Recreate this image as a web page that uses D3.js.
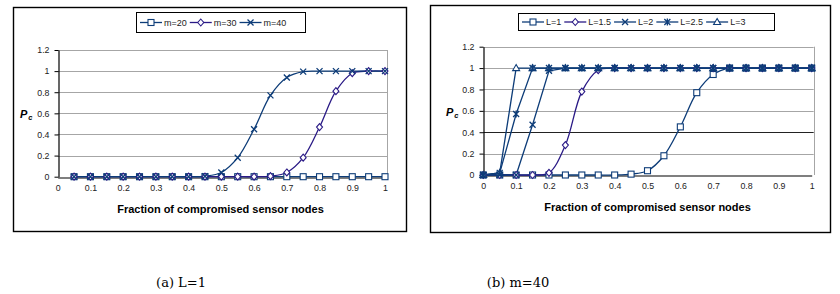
<!DOCTYPE html>
<html><head><meta charset="utf-8">
<script src="https://cdn.jsdelivr.net/npm/d3@7"></script>
<style>body{margin:0;background:#fff}svg{display:block}</style>
</head><body>
<svg id="c" width="840" height="294"></svg>
<script>
// ---- data ----
const xTicks = [0,0.1,0.2,0.3,0.4,0.5,0.6,0.7,0.8,0.9,1];
const yTicks = [0,0.2,0.4,0.6,0.8,1,1.2];
const xTickLabels = ["0","0.1","0.2","0.3","0.4","0.5","0.6","0.7","0.8","0.9","1"];
const yTickLabels = ["0","0.2","0.4","0.6","0.8","1","1.2"];

const xA = [0.05,0.1,0.15,0.2,0.25,0.3,0.35,0.4,0.45,0.5,0.55,0.6,0.65,0.7,0.75,0.8,0.85,0.9,0.95,1];
const m20 = [0,0,0,0,0,0,0,0,0,0,0,0,0,0,0,0,0,0,0,0];
const m30 = [0,0,0,0,0,0,0,0,0,0,0,0,0.005,0.04,0.18,0.47,0.81,0.98,1,1];
const m40 = [0,0,0,0,0,0,0,0,0.005,0.04,0.18,0.45,0.77,0.94,0.995,1,1,1,1,1];

const xB = [0,0.05,0.1,0.15,0.2,0.25,0.3,0.35,0.4,0.45,0.5,0.55,0.6,0.65,0.7,0.75,0.8,0.85,0.9,0.95,1];
const L1  = [0,0,0,0,0,0,0,0,0,0.008,0.04,0.18,0.45,0.77,0.94,1,1,1,1,1,1];
const L15 = [0,0,0,0,0.02,0.28,0.78,0.98,1,1,1,1,1,1,1,1,1,1,1,1,1];
const L2  = [0,0,0,0.47,0.975,1,1,1,1,1,1,1,1,1,1,1,1,1,1,1,1];
const L25 = [0,0.02,0.57,1,1,1,1,1,1,1,1,1,1,1,1,1,1,1,1,1,1];
const L3  = [0,0.02,1,1,1,1,1,1,1,1,1,1,1,1,1,1,1,1,1,1,1];

const namesA = ["m=20","m=30","m=40"];
const namesB = ["L=1","L=1.5","L=2","L=2.5","L=3"];
const captions = ["(a) L=1","(b) m=40"];
const xTitle = "Fraction of compromised sensor nodes";

// ---- drawing ----
const svg = d3.select("#c");
const NAVY = "#0d3c78", PURP = "#2a1a86";
const FONT = "Liberation Sans, Arial, sans-serif";

function marker(g, type, x, y, color){
  const s = 3;
  if(type==="square"){
    g.append("rect").attr("x",x-s).attr("y",y-s).attr("width",2*s).attr("height",2*s)
      .attr("fill","#fff").attr("stroke",color).attr("stroke-width",1.1);
  } else if(type==="diamond"){
    g.append("path").attr("d",`M${x},${y-s-0.5}L${x+s},${y}L${x},${y+s+0.5}L${x-s},${y}Z`)
      .attr("fill","#fff").attr("stroke",color).attr("stroke-width",1.1);
  } else if(type==="x"){
    g.append("path").attr("d",`M${x-s},${y-s}L${x+s},${y+s}M${x-s},${y+s}L${x+s},${y-s}`)
      .attr("stroke",color).attr("stroke-width",1.3).attr("fill","none");
  } else if(type==="star"){
    g.append("path").attr("d",`M${x-s},${y-s}L${x+s},${y+s}M${x-s},${y+s}L${x+s},${y-s}M${x},${y-s-0.5}L${x},${y+s+0.5}`)
      .attr("stroke",color).attr("stroke-width",1.3).attr("fill","none");
  } else if(type==="tri"){
    g.append("path").attr("d",`M${x},${y-s-0.5}L${x+s+0.5},${y+s-0.5}L${x-s-0.5},${y+s-0.5}Z`)
      .attr("fill","#fff").attr("stroke",color).attr("stroke-width",1.1);
  }
}
const filled = t => t==="square"||t==="diamond"||t==="tri";

function panel(cfg){
  const g = svg.append("g");
  g.append("rect").attr("x",cfg.frame[0]+0.5).attr("y",cfg.frame[1]+0.5)
    .attr("width",cfg.frame[2]-cfg.frame[0]).attr("height",cfg.frame[3]-cfg.frame[1])
    .attr("fill","#fff").attr("stroke","#000").attr("stroke-width",1.4);
  const x = d3.scaleLinear().domain([0,1]).range([cfg.px0,cfg.px1]);
  const y = d3.scaleLinear().domain([0,1.2]).range([cfg.py0,cfg.py1]);
  g.append("g").selectAll("line").data(yTicks.filter(d=>d>0)).join("line")
    .attr("x1",cfg.px0).attr("x2",cfg.px1+2)
    .attr("y1",d=>Math.round(y(d))+0.5).attr("y2",d=>Math.round(y(d))+0.5)
    .attr("stroke",d=>(cfg.darkGrid!==undefined && Math.abs(d-cfg.darkGrid)<1e-9)?"#222":"#a6a6a6")
    .attr("stroke-width",1);
  g.append("line").attr("x1",Math.round(cfg.px1+2)+0.5).attr("x2",Math.round(cfg.px1+2)+0.5)
    .attr("y1",y(1.2)).attr("y2",y(0)).attr("stroke","#a6a6a6");
  const ya = d3.axisLeft(y).tickValues(yTicks).tickFormat((d,i)=>yTickLabels[i]).tickSize(4).tickSizeOuter(0);
  const yg = g.append("g").attr("transform",`translate(${Math.round(cfg.px0)+0.5},0)`).call(ya);
  yg.select(".domain").attr("stroke","#000").attr("stroke-width",1.2);
  yg.selectAll(".tick line").attr("stroke","#000");
  yg.selectAll("text").attr("font-family",FONT).attr("font-size",8.8).attr("fill","#222").attr("dx",-2);
  const xa = d3.axisBottom(x).tickValues(xTicks).tickFormat((d,i)=>xTickLabels[i]).tickSize(0).tickSizeOuter(0);
  const xg = g.append("g").attr("transform",`translate(0,${Math.round(cfg.py0)+0.5})`).call(xa);
  xg.select(".domain").attr("stroke","#000").attr("stroke-width",1.2);
  xg.selectAll("text").attr("font-family",FONT).attr("font-size",8.8).attr("fill","#222").attr("dy","1.15em");
  g.append("text").attr("x",cfg.xtx).attr("y",cfg.xty).attr("text-anchor","middle")
    .attr("font-family",FONT).attr("font-weight","bold").attr("font-size",11)
    .text(xTitle);
  const pc = g.append("text").attr("x",cfg.pcx).attr("y",cfg.pcy)
    .attr("font-family",FONT).attr("font-weight","bold").attr("font-style","italic").attr("font-size",11);
  pc.append("tspan").text("P");
  pc.append("tspan").attr("font-size",7.5).attr("dy",2).attr("dx",1).text("c");
  cfg.series.forEach(s=>{
    const pts = s.xs.map((v,i)=>[x(v),y(s.ys[i])]);
    const line = d3.line().curve(s.smooth?d3.curveCatmullRom.alpha(0.5):d3.curveLinear);
    g.append("path").attr("d",line(pts)).attr("fill","none").attr("stroke",s.color).attr("stroke-width",1.3);
  });
  const order = cfg.series.filter(s=>filled(s.marker)).concat(cfg.series.filter(s=>!filled(s.marker)));
  order.forEach(s=>{
    const mg = g.append("g");
    s.xs.forEach((v,i)=>marker(mg,s.marker,x(v),y(s.ys[i]),s.color));
  });
  const [lx0,ly0,lx1,ly1] = cfg.legend;
  g.append("rect").attr("x",lx0+0.5).attr("y",ly0+0.5).attr("width",lx1-lx0).attr("height",ly1-ly0)
    .attr("fill","#fff").attr("stroke","#000").attr("stroke-width",1);
  let cx = lx0+4;
  const cy = (ly0+ly1)/2+0.5;
  cfg.series.forEach((s,i)=>{
    g.append("line").attr("x1",cx).attr("x2",cx+22).attr("y1",cy).attr("y2",cy).attr("stroke",s.color).attr("stroke-width",1.3);
    marker(g,s.marker,cx+11,cy,s.color);
    const t = g.append("text").attr("x",cx+24).attr("y",cy+3.2).attr("font-family",FONT)
      .attr("font-size",9).attr("fill","#222").text(s.name);
    cx += 24 + t.node().getComputedTextLength() + cfg.legendGap;
  });
  g.append("text").attr("x",cfg.capx).attr("y",cfg.capy).attr("text-anchor","middle")
    .attr("font-family","DejaVu Serif, Liberation Serif, serif").attr("font-size",13).text(cfg.caption);
}

panel({
  frame:[13,7,406,231], px0:57.7, px1:385, py0:176.7, py1:50,
  xtx:220.5, xty:213, pcx:20, pcy:118,
  legend:[136,12,305,32], legendGap:3,
  caption:captions[0], capx:181, capy:287,
  series:[
    {name:namesA[0], xs:xA, ys:m20, color:NAVY, marker:"square", smooth:true},
    {name:namesA[1], xs:xA, ys:m30, color:PURP, marker:"diamond", smooth:true},
    {name:namesA[2], xs:xA, ys:m40, color:NAVY, marker:"x", smooth:true}
  ]
});
panel({
  frame:[430,5,830,232], px0:483.3, px1:811.7, py0:175, py1:46.7, darkGrid:0.4,
  xtx:647.5, xty:211, pcx:446, pcy:116,
  legend:[518,13,774,30], legendGap:3,
  caption:captions[1], capx:518, capy:287,
  series:[
    {name:namesB[0], xs:xB, ys:L1, color:NAVY, marker:"square", smooth:true},
    {name:namesB[1], xs:xB, ys:L15, color:PURP, marker:"diamond", smooth:true},
    {name:namesB[2], xs:xB, ys:L2, color:NAVY, marker:"x", smooth:false},
    {name:namesB[3], xs:xB, ys:L25, color:NAVY, marker:"star", smooth:false},
    {name:namesB[4], xs:xB, ys:L3, color:NAVY, marker:"tri", smooth:false}
  ]
});
</script>
</body></html>
